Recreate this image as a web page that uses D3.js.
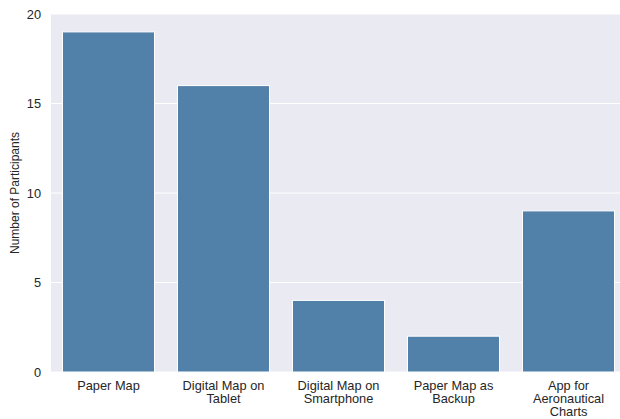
<!DOCTYPE html>
<html><head><meta charset="utf-8">
<script src="https://cdn.jsdelivr.net/npm/d3@7"></script>
<style>body{margin:0;background:#fff}svg{display:block}text{font-family:"Liberation Sans",Arial,sans-serif;fill:#262626}</style>
</head><body>
<svg id="c" width="620" height="419"></svg>
<script>
const categories = [["Paper Map"],["Digital Map on","Tablet"],["Digital Map on","Smartphone"],["Paper Map as","Backup"],["App for","Aeronautical","Charts"]];
const values = [19,16,4,2,9];
const yTicks = [0,5,10,15,20];

const svg = d3.select("#c");
const m = {left:51, right:626, top:14, bottom:372};
const keys = categories.map(c=>c.join(" "));
const x = d3.scaleBand().domain(keys).range([m.left,m.right]).paddingInner(0.2).paddingOuter(0.1);
const y = d3.scaleLinear().domain([0,20]).range([m.bottom,m.top]);

svg.append("rect").attr("x",m.left).attr("y",m.top).attr("width",m.right-m.left).attr("height",m.bottom-m.top).attr("fill","#EAEAF2");

const yAxis = d3.axisLeft(y).tickValues(yTicks).tickSize(0).tickPadding(10);
const gy = svg.append("g").attr("transform",`translate(${m.left},0)`).call(yAxis);
gy.select(".domain").remove();
gy.selectAll("text").style("font-size","12.8px").attr("fill","#262626");
svg.append("g").selectAll("line").data(yTicks).join("line")
  .attr("x1",m.left).attr("x2",m.right).attr("y1",d=>y(d)).attr("y2",d=>y(d))
  .attr("stroke","#fff").attr("stroke-width",1);

svg.append("g").selectAll("rect").data(values).join("rect")
  .attr("x",(d,i)=>x(keys[i])).attr("width",x.bandwidth())
  .attr("y",d=>y(d)).attr("height",d=>y(0)-y(d))
  .attr("fill","#5181A8").attr("stroke","#fff").attr("stroke-width",1);

const gx = svg.append("g");
categories.forEach((c,i)=>{
  const t = gx.append("text").attr("text-anchor","middle").style("font-size","12.8px")
    .attr("transform",`translate(${x(keys[i])+x.bandwidth()/2},${m.bottom+17.5})`);
  c.forEach((line,j)=>t.append("tspan").attr("x",0).attr("dy",j?13.4:0).text(line));
});

svg.append("text").attr("transform",`translate(19,${(m.top+m.bottom)/2}) rotate(-90)`)
  .attr("text-anchor","middle").style("font-size","12px").text("Number of Participants");
</script>
</body></html>
